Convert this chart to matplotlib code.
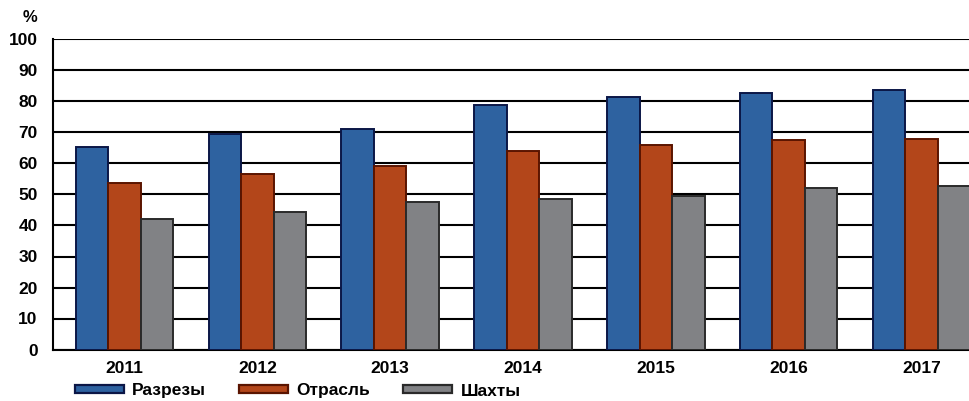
import numpy as np
import matplotlib.pyplot as plt
from matplotlib.patches import Patch

plt.rcParams['font.family'] = ['Liberation Sans', 'DejaVu Sans']

# Данные
years = ['2011', '2012', '2013', '2014', '2015', '2016', '2017']
razrezy = [65.4, 69.4, 71.1, 79.0, 81.5, 82.8, 83.7]
otrasl = [53.6, 56.7, 59.3, 64.0, 65.9, 67.5, 68.0]
shahty = [42.0, 44.4, 47.6, 48.6, 49.6, 52.0, 52.8]
series_names = ['Разрезы', 'Отрасль', 'Шахты']

colors = ['#2E62A0', '#B3461A', '#818285']
edges = ['#0B1646', '#5A1400', '#2A2A2A']

fig = plt.figure(figsize=(9.70, 4.01), dpi=100)
# ось уходит за правый край картинки, как в оригинале
ax = fig.add_axes([53 / 970, 1 - 349.5 / 401, 940 / 970, 310 / 401])

x = np.arange(len(years))
w = 0.245
for i, vals in enumerate([razrezy, otrasl, shahty]):
    ax.bar(x + (i - 1) * w, vals, w, color=colors[i], edgecolor=edges[i],
           linewidth=1.4, zorder=3)

ax.set_ylim(0, 100)
ax.set_xlim(-0.54, 6.54)
ax.set_yticks(range(0, 101, 10))
ax.set_xticks(x)
ax.set_xticklabels(years, fontsize=12.5, fontweight='bold')
for lbl in ax.get_yticklabels():
    lbl.set_fontweight('bold')
    lbl.set_fontsize(12.5)
ax.tick_params(axis='x', length=0, pad=8)
ax.tick_params(axis='y', length=0, pad=11)
ax.yaxis.grid(True, color='black', linewidth=1.5, zorder=0)
ax.set_axisbelow(True)
for s in ['right', 'top']:
    ax.spines[s].set_visible(False)
ax.spines['left'].set_linewidth(1.5)
ax.spines['bottom'].set_linewidth(1.5)

fig.text(30 / 970, 1 - 18 / 401, '%', fontsize=12, fontweight='bold',
         ha='center', va='center')

handles = [Patch(facecolor=colors[i], edgecolor=edges[i], linewidth=1.6)
           for i in range(3)]
fig.legend(handles, series_names, loc='center left', ncol=3,
           bbox_to_anchor=(75 / 970, 10 / 401), frameon=False,
           prop={'size': 12.5, 'weight': 'bold'},
           handlelength=2.8, handleheight=0.3, handletextpad=0.5,
           columnspacing=1.9, borderpad=0, borderaxespad=0)

fig.savefig('out.png', dpi=100)
